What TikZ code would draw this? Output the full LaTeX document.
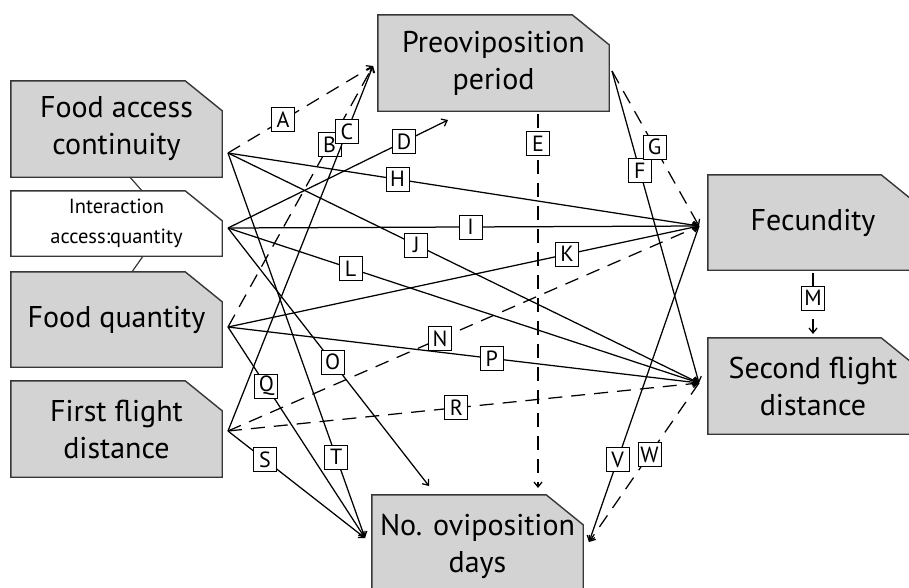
\documentclass[tikz,border=0pt]{standalone}
\usepackage{fontspec}
\setmainfont{PT Sans}
\usetikzlibrary{arrows.meta,backgrounds}
\definecolor{boxfill}{RGB}{211,211,211}
\definecolor{boxline}{RGB}{55,55,55}
\newcommand{\chamferbox}[2]{%
  \filldraw[fill=#2,draw=boxline,line width=1.4pt] (#1.south west) -- (#1.north west) -- ([xshift=-37pt]#1.north east) -- ([yshift=-30pt]#1.north east) -- (#1.south east) -- cycle;}
\begin{document}
\begin{tikzpicture}[x=1pt,y=-1pt,
  box/.style={minimum width=211pt,minimum height=96pt,inner sep=0pt,align=center,font=\fontsize{30}{37}\selectfont},
  lab/.style={draw,solid,fill=white,line width=0.9pt,inner sep=0pt,minimum width=23pt,minimum height=24pt,font=\fontsize{22}{22}\selectfont},
  conn/.style={line width=1.25pt,-{Straight Barb[length=5pt,width=8pt]}},
  dconn/.style={conn,dash pattern=on 14pt off 9pt},
  link/.style={line width=1.2pt,draw=boxline},
]
\clip (0,0) rectangle (909,587);
% boxes
\node[box] (fac) at (116.5,129) {Food access\\continuity};
\node[box,minimum height=65pt,font=\fontsize{20.5}{30}\selectfont] (int) at (116.5,223.5) {Interaction\\access:quantity};
\node[box,minimum height=95pt] (fq) at (116.5,319.5) {Food quantity};
\node[box] (ffd) at (116.5,429) {First flight\\distance};
\node[box,minimum width=231pt] (pre) at (493.5,63) {Preoviposition\\period};
\node[box,minimum width=210pt,minimum height=95pt] (fec) at (813,222.5) {Fecundity};
\node[box,minimum width=210pt] (sfd) at (813,386) {Second flight\\distance};
\node[box,minimum height=102pt] (nod) at (477.5,546) {No. oviposition\\days};
\begin{scope}[on background layer]
  \chamferbox{fac}{boxfill}
  \chamferbox{int}{white}
  \chamferbox{fq}{boxfill}
  \chamferbox{ffd}{boxfill}
  \chamferbox{pre}{boxfill}
  \chamferbox{fec}{boxfill}
  \chamferbox{sfd}{boxfill}
  \chamferbox{nod}{boxfill}
\end{scope}
\draw[link] ([xshift=13.5pt]fac.south) -- ([xshift=25.5pt]int.north);
\draw[link] ([xshift=26.5pt]int.south) -- ([xshift=15.5pt]fq.north);
% connector end points
\coordinate (sFAC) at (228,153);
\coordinate (sINT) at (228,228);
\coordinate (sFQ) at (228,327);
\coordinate (sFFD) at (228,431);
\coordinate (tPRE) at (373,66);
\coordinate (tD) at (448,120);
\coordinate (sPRE) at (612,71);
\coordinate (tFEC) at (699,226);
\coordinate (tSFD) at (699,383);
\coordinate (tNOD) at (365,538);
\coordinate (tO) at (429,486);
\coordinate (tNOR) at (589,542);
\coordinate (sE) at (538,114);
\coordinate (tE) at (538,488);
\coordinate (sM) at (813,273);
\coordinate (tM) at (813,334);
% connectors
\draw[dconn] (sFAC) -- node[lab,pos=.38]{A} (tPRE);
\draw[dconn] (sFQ) -- node[lab,pos=.70]{B} (tPRE);
\draw[conn] (sFFD) -- node[lab,pos=.82]{C} (tPRE);
\draw[conn] (sINT) -- node[lab,pos=.80]{D} (tD);
\draw[dconn] (sE) -- node[lab,pos=.08]{E} (tE);
\draw[conn] (sPRE) -- node[lab,pos=.32]{F} (tSFD);
\draw[dconn] (sPRE) -- node[lab,pos=.49]{G} (tFEC);
\draw[conn] (sFAC) -- node[lab,pos=.36]{H} (tFEC);
\draw[conn] (sINT) -- node[lab,pos=.515]{I} (tFEC);
\draw[conn] (sFAC) -- node[lab,pos=.40]{J} (tSFD);
\draw[conn] (sFQ) -- node[lab,pos=.72]{K} (tFEC);
\draw[conn] (sINT) -- node[lab,pos=.26]{L} (tSFD);
\draw[dconn] (sM) -- node[lab,pos=.41]{M} (tM);
\draw[dconn] (sFFD) -- node[lab,pos=.45]{N} (tFEC);
\draw[conn] (sINT) -- node[lab,pos=.52]{O} (tO);
\draw[conn] (sFQ) -- node[lab,pos=.56]{P} (tSFD);
\draw[conn] (sFQ) -- node[lab,pos=.28]{Q} (tNOD);
\draw[dconn] (sFFD) -- node[lab,pos=.485]{R} (tSFD);
\draw[conn] (sFFD) -- node[lab,pos=.27]{S} (tNOD);
\draw[conn] (sFAC) -- node[lab,pos=.79]{T} (tNOD);
\draw[conn] (tFEC) -- node[lab,pos=.74]{V} (tNOR);
\draw[dconn] (tSFD) -- node[lab,pos=.45]{W} (tNOR);
\end{tikzpicture}
\end{document}
